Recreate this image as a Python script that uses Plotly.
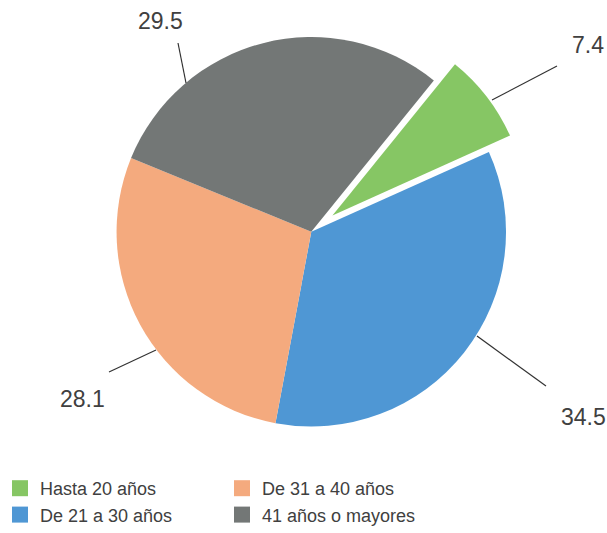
import plotly.graph_objects as go

# ---- data ----
categories = ["Hasta 20 años", "De 21 a 30 años", "De 31 a 40 años", "41 años o mayores"]
values = [7.4, 34.5, 28.1, 29.5]
colors = ["#86C664", "#4F97D4", "#F4AA7E", "#737776"]
legend_order = [0, 2, 1, 3]  # column-major legend (2 columns)

# ---- layout / style (pixels, measured in the browser window) ----
W, H = 607, 533
TEXT_COLOR = "#404040"
FONT = "Liberation Sans, Arial, sans-serif"
# leader line head, line end, and label centre for each slice (window px)
label_layout = [
    dict(head=(492, 100), end=(557, 66), text=(588, 45)),
    dict(head=(477, 336), end=(546, 386), text=(583, 417)),
    dict(head=(156, 350), end=(109, 372), text=(82, 399)),
    dict(head=(186, 83), end=(178, 43), text=(160, 21)),
]

def px(x, y):
    return x / W, 1 - y / H

fig = go.Figure()
fig.add_trace(go.Pie(
    labels=categories, values=values, sort=False, direction="clockwise",
    rotation=39, pull=[0.137, 0, 0, 0],
    marker=dict(colors=colors, line=dict(width=0)),
    textinfo="none", showlegend=False,
    domain=dict(x=[0.1481, 0.8776], y=[0.1497, 0.9805]),
))

for i in legend_order:
    fig.add_trace(go.Scatter(
        x=[None], y=[None], mode="markers", name=categories[i],
        marker=dict(symbol="square", size=16, color=colors[i]),
        hoverinfo="skip",
    ))

shapes, annotations = [], []
for v, lab in zip(values, label_layout):
    x0, y0 = px(*lab["head"])
    x1, y1 = px(*lab["end"])
    shapes.append(dict(type="line", xref="paper", yref="paper", x0=x0, y0=y0, x1=x1, y1=y1,
                       line=dict(color="#333333", width=1.2)))
    tx, ty = px(*lab["text"])
    annotations.append(dict(xref="paper", yref="paper", x=tx, y=ty, text=f"{v:.1f}",
                            showarrow=False, xanchor="center", yanchor="middle",
                            font=dict(size=23, color=TEXT_COLOR, family=FONT)))

fig.update_layout(
    width=W, height=H, margin=dict(l=0, r=0, t=0, b=0),
    paper_bgcolor="white", plot_bgcolor="white",
    xaxis=dict(visible=False), yaxis=dict(visible=False),
    shapes=shapes, annotations=annotations,
    showlegend=True,
    legend=dict(orientation="h", x=0, xanchor="left", y=0, yanchor="bottom",
                entrywidth=177, entrywidthmode="pixels",
                font=dict(size=18, color=TEXT_COLOR, family=FONT),
                bgcolor="rgba(0,0,0,0)"),
    font=dict(family=FONT, color=TEXT_COLOR),
)

fig.write_html("out.html", config={"displayModeBar": False},
               post_script="document.body.style.margin='0';")
